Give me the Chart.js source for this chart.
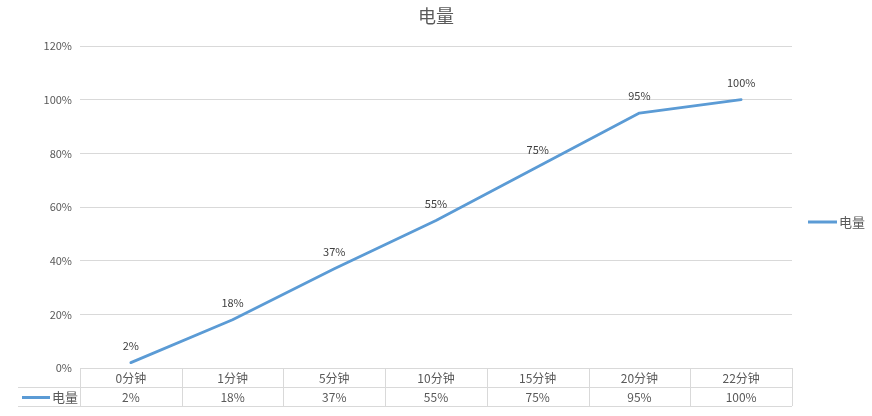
<!DOCTYPE html>
<html>
<head>
<meta charset="utf-8">
<script src="https://cdn.jsdelivr.net/npm/chart.js@4/dist/chart.umd.min.js"></script>
<style>
html,body{margin:0;padding:0;background:#fff;}
#wrap{width:872px;height:416px;}
</style>
</head>
<body>
<div id="wrap"><canvas id="c" width="872" height="416"></canvas></div>
<script>
const title = '电量';
const seriesName = '电量';
const categories = ['0分钟','1分钟','5分钟','10分钟','15分钟','20分钟','22分钟'];
const values = [2, 18, 37, 55, 75, 95, 100];
const yTicks = [0, 20, 40, 60, 80, 100, 120];

const FONT = '"Noto Sans CJK SC", "Noto Sans", sans-serif';
const TEXT = '#595959';
const GRID = '#D9D9D9';
const LINE = '#5B9BD5';

const extras = {
  id: 'extras',
  afterDraw(chart) {
    const ctx = chart.ctx;
    const area = chart.chartArea;
    const xs = chart.scales.x;
    const meta = chart.getDatasetMeta(0);
    ctx.save();
    // title
    ctx.fillStyle = TEXT;
    ctx.font = '18px ' + FONT;
    ctx.textAlign = 'center';
    ctx.textBaseline = 'middle';
    ctx.fillText(title, (area.left + area.right) / 2, 16);
    // data labels
    ctx.font = '11px ' + FONT;
    ctx.fillStyle = '#404040';
    meta.data.forEach((pt, i) => {
      ctx.fillText(values[i] + '%', pt.x, pt.y - 17);
    });
    // data table
    const top = area.bottom;
    const rowH = 19;
    const colW = (area.right - area.left) / categories.length;
    ctx.strokeStyle = GRID;
    ctx.lineWidth = 1;
    ctx.beginPath();
    ctx.moveTo(area.left, top + 0.5); ctx.lineTo(area.right, top + 0.5);
    ctx.moveTo(18, top + rowH + 0.5); ctx.lineTo(area.right, top + rowH + 0.5);
    ctx.moveTo(18, top + 2 * rowH + 0.5); ctx.lineTo(area.right, top + 2 * rowH + 0.5);
    for (let i = 0; i <= categories.length; i++) {
      const x = Math.round(area.left + i * colW) + 0.5;
      ctx.moveTo(x, top); ctx.lineTo(x, top + 2 * rowH);
    }
    ctx.stroke();
    ctx.fillStyle = TEXT;
    ctx.font = '12px ' + FONT;
    categories.forEach((c, i) => {
      const x = xs.getPixelForValue(i);
      ctx.fillText(c, x, top + rowH / 2 + 1);
      ctx.fillText(values[i] + '%', x, top + rowH * 1.5 + 1);
    });
    // table legend key
    ctx.strokeStyle = LINE;
    ctx.lineWidth = 3;
    ctx.beginPath();
    ctx.moveTo(22, top + rowH * 1.5 + 1); ctx.lineTo(50, top + rowH * 1.5 + 1);
    ctx.stroke();
    ctx.textAlign = 'left';
    ctx.font = '13px ' + FONT;
    ctx.fillText(seriesName, 52, top + rowH * 1.5 + 1);
    // right legend
    ctx.beginPath();
    ctx.moveTo(808, 222); ctx.lineTo(837, 222);
    ctx.stroke();
    ctx.fillText(seriesName, 839, 222);
    ctx.restore();
  }
};

new Chart(document.getElementById('c'), {
  type: 'line',
  data: {
    labels: categories,
    datasets: [{
      label: seriesName,
      data: values,
      borderColor: LINE,
      backgroundColor: LINE,
      borderWidth: 2.75,
      pointRadius: 0,
      tension: 0,
      borderCapStyle: 'round',
      borderJoinStyle: 'round'
    }]
  },
  options: {
    responsive: false,
    animation: false,
    layout: { padding: { left: 0, right: 80, top: 46, bottom: 10 } },
    plugins: {
      legend: { display: false },
      title: { display: false },
      tooltip: { enabled: false }
    },
    scales: {
      x: {
        offset: true,
        grid: { display: false },
        border: { display: false },
        ticks: { display: false },
        afterFit(scale) { scale.height = 38; }
      },
      y: {
        min: 0,
        max: 120,
        afterBuildTicks(scale) { scale.ticks = yTicks.map(v => ({ value: v })); },
        grid: { color: GRID, drawTicks: false, lineWidth: 1 },
        border: { display: false },
        ticks: {
          padding: 8,
          color: TEXT,
          font: { family: FONT, size: 11 },
          callback: v => v + '%'
        },
        afterFit(scale) { scale.width = 80; }
      }
    }
  },
  plugins: [extras]
});
</script>
</body>
</html>
